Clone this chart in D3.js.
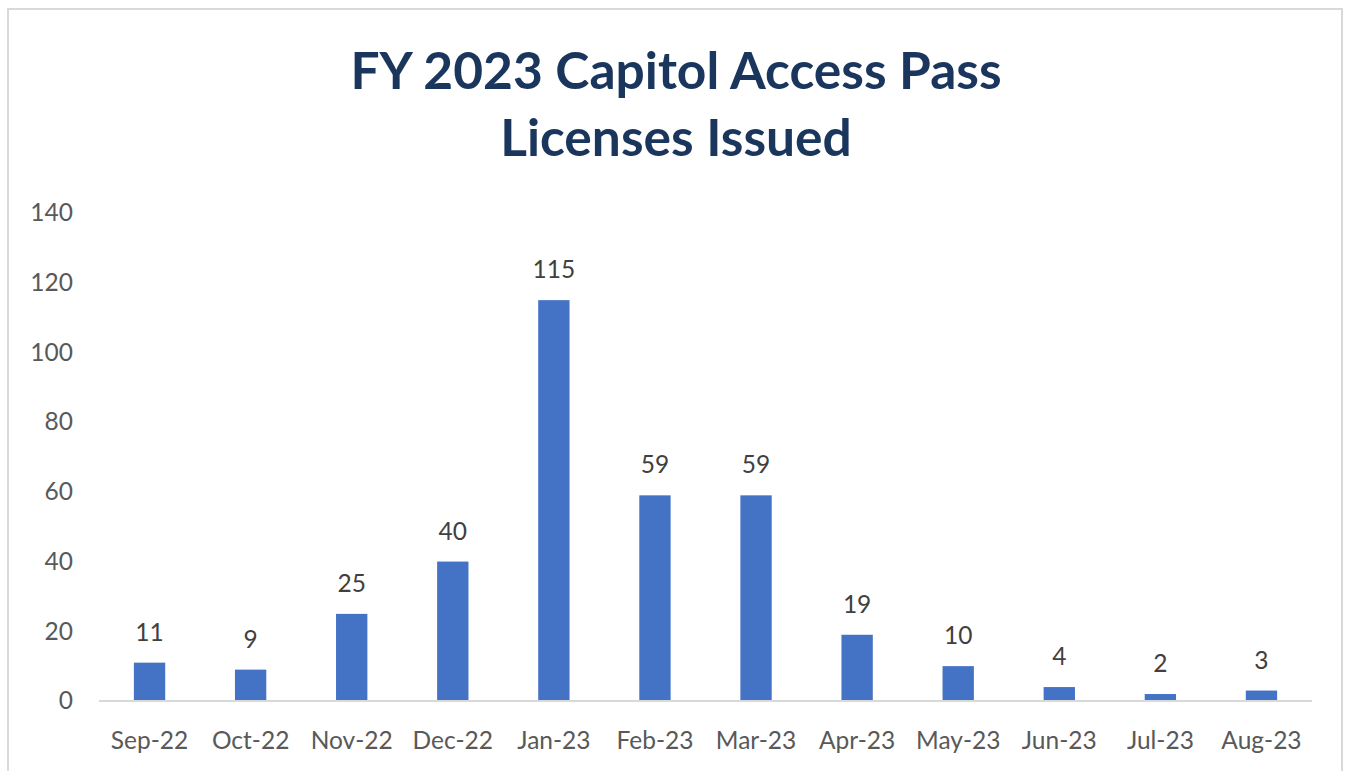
<!DOCTYPE html>
<html>
<head>
<meta charset="utf-8">
<script src="https://cdn.jsdelivr.net/npm/d3@7"></script>
<style>
  html, body { margin: 0; padding: 0; background: #fff; }
  svg { display: block; }
</style>
</head>
<body>
<svg id="chart" width="1348" height="771"></svg>
<script>
const titleLines = ["FY 2023 Capitol Access Pass", "Licenses Issued"];
const categories = ["Sep-22","Oct-22","Nov-22","Dec-22","Jan-23","Feb-23","Mar-23","Apr-23","May-23","Jun-23","Jul-23","Aug-23"];
const values = [11, 9, 25, 40, 115, 59, 59, 19, 10, 4, 2, 3];
const yTicks = [0, 20, 40, 60, 80, 100, 120, 140];

const svg = d3.select("#chart");
const font = "Lato, 'Open Sans', sans-serif";

// chart border
svg.append("rect")
  .attr("x", 8).attr("y", 9).attr("width", 1334).attr("height", 770)
  .attr("fill", "#fff").attr("stroke", "#d9d9d9").attr("stroke-width", 2);

const margin = { left: 99, right: 1312, top: 213, bottom: 701 };

const x = d3.scaleBand().domain(categories).range([margin.left, margin.right]).paddingInner(0.69).paddingOuter(0.345);
const y = d3.scaleLinear().domain([0, 140]).range([margin.bottom, margin.top]);

// title
svg.append("g").selectAll("text").data(titleLines).join("text")
  .attr("x", 676)
  .attr("y", (d, i) => 89 + i * 67)
  .attr("text-anchor", "middle")
  .attr("font-family", font)
  .attr("font-weight", "bold")
  .attr("font-size", 51.5)
  .attr("fill", "#1b365d")
  .text(d => d);

// y axis (labels only)
const yAxis = d3.axisLeft(y).tickValues(yTicks).tickSize(0).tickPadding(0);
const gy = svg.append("g").attr("transform", `translate(73,0)`).call(yAxis);
gy.select(".domain").remove();
gy.selectAll("text").attr("font-family", font).attr("font-size", 24.5).attr("fill", "#595959");

// bars
svg.append("g").selectAll("rect").data(values).join("rect")
  .attr("x", (d, i) => x(categories[i]))
  .attr("width", x.bandwidth())
  .attr("y", d => y(d))
  .attr("height", d => y(0) - y(d))
  .attr("fill", "#4472c4");

// x axis
const xAxis = d3.axisBottom(x).tickSize(0).tickPadding(0);
const gx = svg.append("g").attr("transform", `translate(0,${y(0)})`).call(xAxis);
gx.select(".domain").attr("stroke", "#d9d9d9").attr("stroke-width", 2)
  .attr("d", `M${margin.left},0H${margin.right}`);
gx.selectAll("text").attr("font-family", font).attr("font-size", 24.5).attr("fill", "#595959")
  .attr("dy", null).attr("y", 48);

// data labels
svg.append("g").selectAll("text").data(values).join("text")
  .attr("x", (d, i) => x(categories[i]) + x.bandwidth() / 2)
  .attr("y", d => y(d) - 22)
  .attr("text-anchor", "middle")
  .attr("font-family", font)
  .attr("font-size", 24.5)
  .attr("fill", "#404040")
  .text(d => d);
</script>
</body>
</html>
